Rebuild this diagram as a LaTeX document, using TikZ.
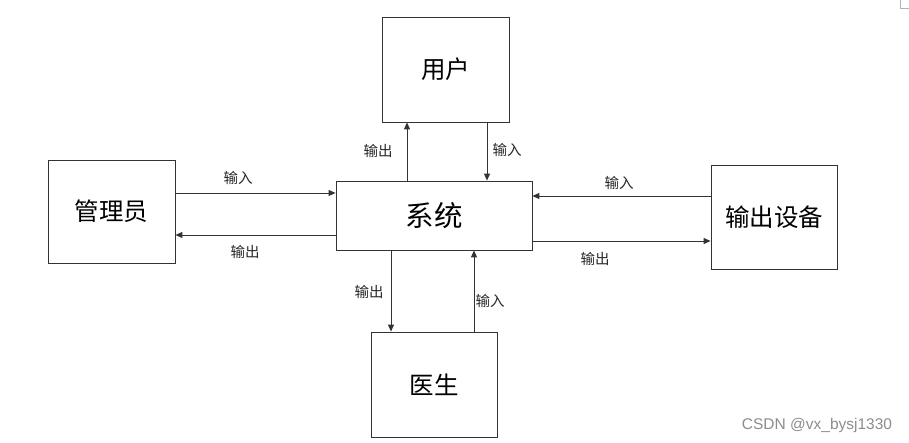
\documentclass[tikz,border=0pt]{standalone}
\usepackage{fontspec}
\setmainfont{Liberation Sans}
\newfontfamily\cjk{Noto Sans CJK SC}
\usetikzlibrary{arrows.meta}
\begin{document}
\begin{tikzpicture}[x=1pt,y=-1pt,
  ent/.style={draw=black!80,line width=0.8pt,inner sep=0pt,font=\cjk\fontsize{24.5}{24.5}\selectfont},
  flow/.style={draw=black!80,line width=0.9pt,-{Triangle[length=7pt,width=6pt]}},
  lab/.style={font=\cjk\fontsize{14.5}{14.5}\selectfont,text=black!85,inner sep=0pt}]
\useasboundingbox (0,0) rectangle (909,443);
\node[ent,minimum width=127pt,minimum height=105pt] (user) at (445.5,69.5) {用户};
\node[ent,minimum width=196pt,minimum height=69pt,font=\cjk\fontsize{28.5}{28.5}\selectfont] (sys) at (434,215.5) {系统};
\node[ent,minimum width=127pt,minimum height=103pt] (admin) at (111.5,211.5) {管理员};
\node[ent,minimum width=126pt,minimum height=104pt] (dev) at (774,217) {输出设备};
\node[ent,minimum width=126pt,minimum height=105pt] (doc) at (434,384.5) {医生};
% connectors
\draw[flow] (sys.north -| 407,0) -- (user.south -| 407,0);
\draw[flow] (user.south -| 487,0) -- (sys.north -| 487,0);
\draw[flow] (admin.east |- 0,193) -- (sys.west |- 0,193);
\draw[flow] (sys.west |- 0,235) -- (admin.east |- 0,235);
\draw[flow] (dev.west |- 0,196) -- (sys.east |- 0,196);
\draw[flow] (sys.east |- 0,241) -- (dev.west |- 0,241);
\draw[flow] (sys.south -| 391,0) -- (doc.north -| 391,0);
\draw[flow] (doc.north -| 474,0) -- (sys.south -| 474,0);
% labels
\node[lab] (l1) at (378,151) {输出};
\node[lab] (l2) at (507,150) {输入};
\node[lab] (l3) at (238,178) {输入};
\node[lab] (l4) at (245,252) {输出};
\node[lab] (l5) at (619,183) {输入};
\node[lab] (l6) at (595,259) {输出};
\node[lab] (l7) at (369,292) {输出};
\node[lab] (l8) at (490,301) {输入};
\node[font=\fontsize{15.5}{15.5}\selectfont,text=black!45,inner sep=0pt] (wm) at (817,425) {CSDN @vx\_bysj1330};
\draw[black!30,line width=0.6pt] (900,0) -- (900,8) -- (909,8);
\end{tikzpicture}
\end{document}
